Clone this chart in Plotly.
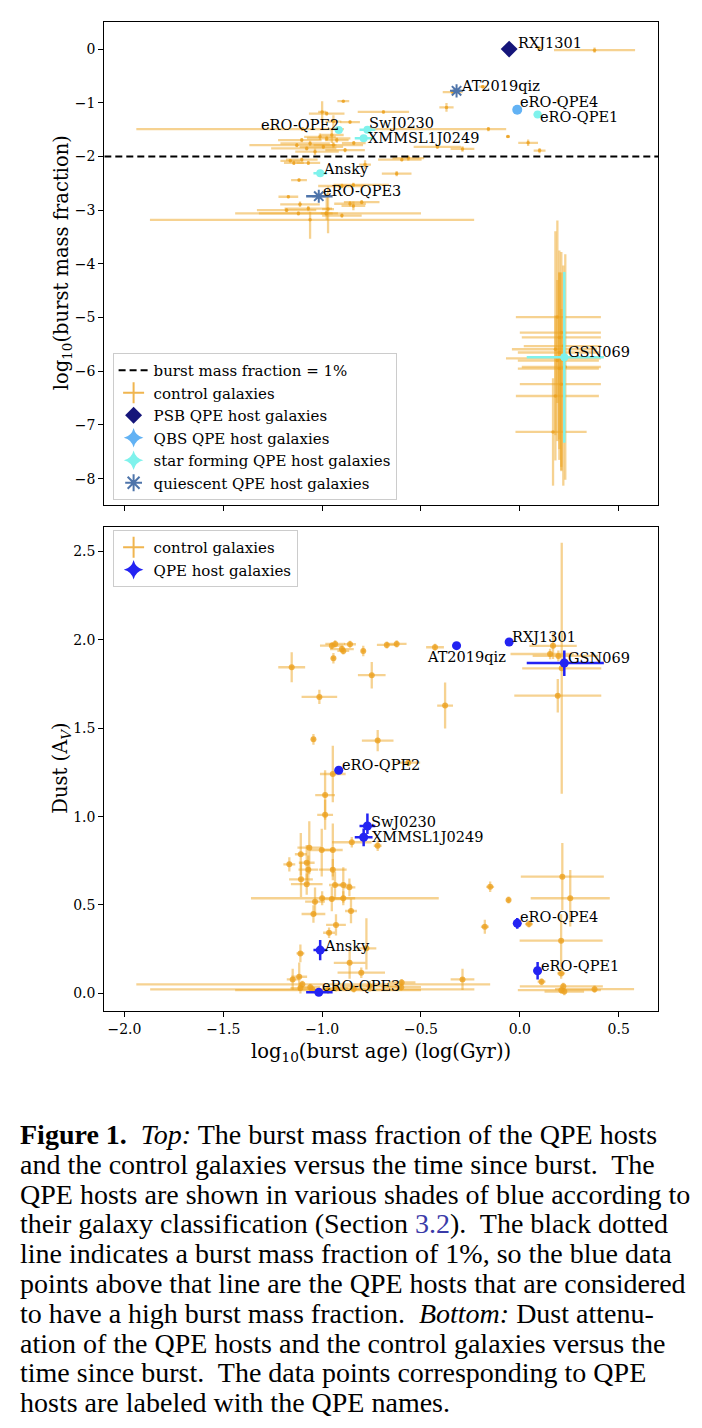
import plotly.graph_objects as go

# ---------------- QPE host data ----------------
qpe_names = ["GSN069", "RXJ1301", "eRO-QPE1", "eRO-QPE2", "eRO-QPE3",
             "eRO-QPE4", "AT2019qiz", "XMMSL1J0249", "SwJ0230", "Ansky"]
qpe_class = ["star forming", "PSB", "star forming", "star forming", "quiescent",
             "QBS", "quiescent", "star forming", "star forming", "star forming"]
qpe_age = [0.225, -0.054, 0.09, -0.916, -1.017, -0.013, -0.32, -0.79, -0.771, -1.01]
qpe_age_lo = [0.19, 0.01, 0.02, 0.02, 0.064, 0.01, 0.02, 0.045, 0.04, 0.034]
qpe_age_hi = [0.20, 0.01, 0.02, 0.02, 0.07, 0.01, 0.02, 0.045, 0.04, 0.034]
qpe_bmf = [-5.74, 0.0, -1.216, -1.508, -2.74, -1.13, -0.777, -1.66, -1.50, -2.31]
qpe_bmf_lo = [1.59, 0.02, 0.06, 0.05, 0.03, 0.02, 0.03, 0.05, 0.05, 0.04]
qpe_bmf_hi = [1.59, 0.02, 0.06, 0.05, 0.03, 0.02, 0.03, 0.05, 0.05, 0.04]
qpe_dust = [1.869, 1.988, 0.128, 1.262, 0.006, 0.396, 1.967, 0.883, 0.947, 0.245]
qpe_dust_lo = [0.073, 0.01, 0.05, 0.01, 0.01, 0.03, 0.01, 0.05, 0.045, 0.057]
qpe_dust_hi = [0.07, 0.01, 0.05, 0.01, 0.01, 0.03, 0.01, 0.05, 0.07, 0.057]

# ---------------- control galaxies: burst mass fraction panel ----------------
ctrl_top_age = [0.097, 0.378, -0.188, -0.34, -0.371, 0.195, -0.159, -0.06, 0.042, 0.10,
                -0.893, -1.0, -0.977, -0.859, -0.69, -1.1, -1.103, -1.061, -1.011, -0.977,
                -0.951, -0.943, -0.926, -0.994, -1.078, -0.884, -1.036, -1.128, -0.943, -0.417,
                -0.29, -0.84, -1.161, -1.103, -0.783, -0.597, -0.564, -0.623, -1.117, -0.842,
                -1.171, -1.112, -1.07, -0.859, -0.842, -1.12, -0.977, -1.061, -0.98, -0.97,
                -1.143, -1.07, -0.90, -1.18, -0.90, -0.80,
                0.19, 0.21, 0.20, 0.22, 0.18, 0.20, 0.21, 0.19, 0.23, 0.20, 0.21, 0.18, 0.168]
ctrl_top_age_lo = [0.01, 0.205, 0.02, 0.05, 0.036, 0.01, 0.62, 0.01, 0.05, 0.03,
                   0.03, 0.02, 0.09, 0.05, 0.13, 0.84, 0.12, 0.15, 0.08, 0.10,
                   0.06, 0.10, 0.06, 0.12, 0.18, 0.10, 0.10, 0.24, 0.04, 0.12,
                   0.06, 0.06, 0.05, 0.08, 0.03, 0.12, 0.08, 0.075, 0.04, 0.10,
                   0.05, 0.10, 0.12, 0.08, 0.06, 0.20, 0.03, 0.81, 0.46, 0.03,
                   0.05, 0.06, 0.12, 0.15, 0.10, 0.09,
                   0.21, 0.21, 0.19, 0.20, 0.22, 0.21, 0.28, 0.20, 0.22, 0.21, 0.21, 0.20, 0.19]
ctrl_top_age_hi = [0.01, 0.205, 0.02, 0.05, 0.036, 0.01, 0.09, 0.01, 0.05, 0.03,
                   0.03, 0.02, 0.09, 0.05, 0.13, 0.21, 0.10, 0.10, 0.08, 0.12,
                   0.06, 0.15, 0.06, 0.10, 0.15, 0.10, 0.12, 0.20, 0.04, 0.12,
                   0.06, 0.06, 0.05, 0.08, 0.03, 0.10, 0.08, 0.075, 0.04, 0.18,
                   0.05, 0.10, 0.12, 0.08, 0.06, 0.20, 0.03, 0.83, 0.48, 0.03,
                   0.05, 0.06, 0.12, 0.15, 0.10, 0.09,
                   0.22, 0.20, 0.21, 0.19, 0.21, 0.20, 0.20, 0.21, 0.18, 0.20, 0.20, 0.22, 0.17]
ctrl_top_bmf = [0.02, -0.02, -0.70, -0.80, -1.086, -0.96, -1.49, -1.63, -1.745, -1.89,
                -0.97, -1.17, -1.20, -1.36, -1.17, -1.49, -1.695, -1.756, -1.633, -1.663,
                -1.60, -1.788, -1.695, -1.82, -1.85, -1.88, -1.91, -1.79, -1.35, -1.82,
                -1.86, -1.75, -2.08, -2.06, -2.15, -2.06, -2.03, -2.32, -2.44, -2.53,
                -2.75, -2.89, -2.97, -2.88, -2.92, -3.06, -3.06, -3.18, -3.06, -2.98,
                -2.12, -2.12, -2.55, -3.0, -3.1, -2.85,
                -4.99, -5.28, -5.37, -5.53, -5.59, -5.65, -5.76, -5.80, -5.92, -5.95, -6.24, -6.46, -7.13]
ctrl_top_bmf_lo = [0.03, 0.05, 0.03, 0.04, 0.08, 0.02, 0.04, 0.02, 0.06, 0.05,
                   0.02, 0.20, 0.04, 0.03, 0.03, 0.03, 0.04, 0.05, 0.06, 0.05,
                   0.15, 0.06, 0.05, 0.04, 0.04, 0.04, 0.06, 0.04, 0.12, 0.04,
                   0.05, 0.04, 0.03, 0.04, 0.08, 0.03, 0.05, 0.05, 0.03, 0.04,
                   0.03, 0.05, 0.05, 0.05, 0.08, 0.04, 0.12, 0.35, 0.04, 0.45,
                   0.04, 0.04, 0.04, 0.04, 0.04, 0.04,
                   1.6, 2.5, 1.9, 2.6, 1.6, 1.8, 2.1, 1.5, 2.1, 1.7, 1.6, 1.2, 1.0]
ctrl_top_bmf_hi = [0.03, 0.05, 0.03, 0.04, 0.08, 0.02, 0.04, 0.02, 0.06, 0.05,
                   0.02, 0.20, 0.04, 0.03, 0.03, 0.03, 0.04, 0.05, 0.06, 0.05,
                   0.10, 0.06, 0.05, 0.04, 0.04, 0.04, 0.06, 0.04, 0.12, 0.04,
                   0.05, 0.04, 0.03, 0.04, 0.08, 0.03, 0.05, 0.05, 0.03, 0.04,
                   0.03, 0.05, 0.05, 0.05, 0.08, 0.04, 0.37, 0.15, 0.04, 0.42,
                   0.04, 0.04, 0.04, 0.04, 0.04, 0.04,
                   1.8, 1.5, 1.2, 1.5, 2.2, 1.9, 1.6, 1.5, 2.1, 1.8, 1.4, 1.5, 1.0]

# ---------------- control galaxies: dust panel ----------------
ctrl_bot_age = [-1.154, -1.014, -0.951, -0.934, -0.90, -0.893, -0.859, -0.943, -0.792, -0.673,
                -0.623, -0.749, -0.429, -0.378, -1.044, -0.719, -0.564, -0.946, -0.985, -0.985,
                0.168, 0.153, 0.195, 0.212, 0.192, -1.065, -1.002, -0.946, -1.108, -1.166,
                -1.078, -1.07, -1.107, -1.078, -0.946, -0.935, -0.893, -0.862, -0.85, -0.719,
                -1.0, -0.951, -0.893, -1.036, -1.044, -0.854, -0.93, 0.215, 0.255, -0.15,
                -0.057, -0.177, 0.046, 0.209, -1.11, -0.965, -0.861, -0.802, -0.776, -1.149,
                -1.116, -0.29, -0.598, 0.11, 0.209, -1.1, -1.05, -0.97, 0.378, 0.21,
                0.22, 0.225, -1.11, -1.06, -0.93, -0.84, -0.76, -0.6]
ctrl_bot_age_lo = [0.068, 0.09, 0.06, 0.05, 0.06, 0.03, 0.03, 0.01, 0.01, 0.05,
                   0.05, 0.07, 0.045, 0.04, 0.01, 0.08, 0.06, 0.065, 0.05, 0.04,
                   0.12, 0.20, 0.13, 0.20, 0.22, 0.06, 0.06, 0.05, 0.03, 0.03,
                   0.04, 0.05, 0.06, 0.08, 0.07, 0.03, 0.04, 0.03, 0.10, 0.02,
                   0.36, 0.05, 0.06, 0.05, 0.06, 0.03, 0.05, 0.21, 0.20, 0.02,
                   0.01, 0.02, 0.02, 0.21, 0.02, 0.03, 0.08, 0.12, 0.05, 0.03,
                   0.04, 0.06, 0.07, 0.02, 0.02, 0.84, 0.82, 0.47, 0.20, 0.22,
                   0.22, 0.10, 0.05, 0.05, 0.06, 0.06, 0.15, 0.10]
ctrl_bot_age_hi = [0.068, 0.09, 0.06, 0.05, 0.06, 0.03, 0.03, 0.01, 0.01, 0.05,
                   0.05, 0.07, 0.045, 0.04, 0.01, 0.08, 0.06, 0.065, 0.05, 0.04,
                   0.12, 0.12, 0.20, 0.20, 0.22, 0.06, 0.06, 0.05, 0.03, 0.03,
                   0.04, 0.05, 0.06, 0.08, 0.07, 0.03, 0.04, 0.03, 0.10, 0.02,
                   0.59, 0.05, 0.06, 0.05, 0.06, 0.03, 0.05, 0.21, 0.20, 0.02,
                   0.01, 0.02, 0.02, 0.21, 0.02, 0.03, 0.08, 0.12, 0.05, 0.03,
                   0.04, 0.06, 0.07, 0.02, 0.02, 0.95, 0.82, 0.47, 0.20, 0.20,
                   0.20, 0.10, 0.05, 0.05, 0.06, 0.06, 0.15, 0.10]
ctrl_bot_dust = [1.845, 1.677, 1.967, 1.977, 1.948, 1.937, 1.975, 1.896, 1.937, 1.971,
                 1.977, 1.80, 1.958, 1.628, 1.437, 1.43, 1.305, 1.241, 1.122, 1.01,
                 1.966, 1.92, 1.909, 1.839, 1.684, 0.824, 0.811, 0.811, 0.787, 0.73,
                 0.739, 0.70, 0.645, 0.618, 0.70, 0.613, 0.613, 0.60, 0.855, 0.835,
                 0.538, 0.534, 0.538, 0.519, 0.449, 0.466, 0.387, 0.66, 0.538, 0.603,
                 0.528, 0.377, 0.392, 0.298, 0.226, 0.343, 0.173, 0.117, 0.255, 0.079,
                 0.094, 0.079, 0.062, 0.066, 0.113, 0.051, 0.023, 0.018, 0.024, 0.018,
                 0.04, 0.01, 0.03, 0.035, 0.03, 0.025, 0.04, 0.035]
ctrl_bot_dust_lo = [0.085, 0.04, 0.02, 0.02, 0.02, 0.02, 0.02, 0.03, 0.03, 0.02,
                    0.02, 0.075, 0.02, 0.13, 0.03, 0.06, 0.02, 0.16, 0.14, 0.085,
                    0.075, 0.03, 0.03, 0.71, 0.095, 0.15, 0.15, 0.15, 0.12, 0.04,
                    0.10, 0.08, 0.10, 0.06, 0.06, 0.075, 0.10, 0.05, 0.03, 0.03,
                    0.04, 0.07, 0.04, 0.08, 0.05, 0.07, 0.06, 0.19, 0.16, 0.03,
                    0.02, 0.04, 0.02, 0.15, 0.05, 0.03, 0.09, 0.03, 0.12, 0.06,
                    0.08, 0.06, 0.02, 0.02, 0.03, 0.02, 0.02, 0.02, 0.02, 0.02,
                    0.02, 0.02, 0.03, 0.02, 0.02, 0.02, 0.03, 0.02]
ctrl_bot_dust_hi = [0.085, 0.04, 0.02, 0.02, 0.02, 0.02, 0.02, 0.03, 0.03, 0.02,
                    0.02, 0.075, 0.02, 0.13, 0.03, 0.06, 0.02, 0.16, 0.14, 0.085,
                    0.075, 0.03, 0.03, 0.71, 0.095, 0.15, 0.12, 0.15, 0.12, 0.04,
                    0.10, 0.08, 0.10, 0.06, 0.06, 0.075, 0.10, 0.05, 0.03, 0.03,
                    0.04, 0.07, 0.04, 0.08, 0.05, 0.07, 0.06, 0.19, 0.16, 0.03,
                    0.02, 0.04, 0.02, 0.15, 0.05, 0.03, 0.09, 0.03, 0.17, 0.06,
                    0.08, 0.06, 0.02, 0.02, 0.03, 0.02, 0.02, 0.02, 0.02, 0.02,
                    0.02, 0.02, 0.03, 0.02, 0.02, 0.02, 0.03, 0.02]

threshold_bmf = -2.0  # log10(1%)
x_range = [-2.102, 0.699]
x_ticks = [-2.0, -1.5, -1.0, -0.5, 0.0, 0.5]
top_y_range = [-8.49, 0.51]
top_y_ticks = [0, -1, -2, -3, -4, -5, -6, -7, -8]
bot_y_range = [-0.098, 2.64]
bot_y_ticks = [0.0, 0.5, 1.0, 1.5, 2.0, 2.5]

caption_lines = [
    "<b>Figure 1.</b>  <i>Top:</i> The burst mass fraction of the QPE hosts",
    "and the control galaxies versus the time since burst.  The",
    "QPE hosts are shown in various shades of blue according to",
    "their galaxy classification (Section <span style='color:#3a3aa8'>3.2</span>).  The black dotted",
    "line indicates a burst mass fraction of 1%, so the blue data",
    "points above that line are the QPE hosts that are considered",
    "to have a high burst mass fraction.  <i>Bottom:</i> Dust attenu-",
    "ation of the QPE hosts and the control galaxies versus the",
    "time since burst.  The data points corresponding to QPE",
    "hosts are labeled with the QPE names.",
]

# ---------------- styles / layout geometry ----------------
PAGE_W, PAGE_H = 702, 1428
OFF = 8                      # browser default body margin
W, H = PAGE_W - 2 * OFF, PAGE_H - 2 * OFF


def px(p):
    return (p - OFF) / W


def py(p):
    return 1 - (p - OFF) / H


FONT = "DejaVu Serif"
ORANGE_BAR = "rgba(238,165,35,0.5)"
ORANGE_MK = "rgba(236,160,30,0.78)"
class_style = {
    "PSB": dict(color="#15157a", symbol="diamond", size=13, legend="PSB QPE host galaxies", lsym="diamond"),
    "QBS": dict(color="#62b2f4", symbol="circle", size=10, legend="QBS QPE host galaxies", lsym="star-diamond"),
    "star forming": dict(color="#7ff2ec", symbol="circle", size=8, legend="star forming QPE host galaxies", lsym="star-diamond"),
    "quiescent": dict(color="#4e74aa", symbol="asterisk-open", size=11, legend="quiescent QPE host galaxies", lsym="asterisk-open"),
}
class_order = ["PSB", "QBS", "star forming", "quiescent"]
QPE_BLUE = "#2323f2"

top_label_shift = {"RXJ1301": (7, 6, "left"), "AT2019qiz": (2, 5, "left"), "eRO-QPE4": (1, 8, "left"),
                   "eRO-QPE1": (0, -3, "left"), "eRO-QPE2": (2, 5, "right"), "SwJ0230": (0, 7, "left"),
                   "XMMSL1J0249": (2, 0, "left"), "Ansky": (1, 4, "left"), "eRO-QPE3": (2, 5, "left"),
                   "GSN069": (2, 5, "left")}
bot_label_shift = {"RXJ1301": (1, 5, "left"), "AT2019qiz": (-32, -11, "left"), "GSN069": (2, 5, "left"),
                   "eRO-QPE2": (1, 5, "left"), "SwJ0230": (2, 4, "left"), "XMMSL1J0249": (6, 0, "left"),
                   "eRO-QPE4": (1, 6, "left"), "Ansky": (2, 4, "left"), "eRO-QPE1": (1, 5, "left"),
                   "eRO-QPE3": (1, 6, "left")}

# plot frames in page pixels
X0, X1 = 104.3, 658.0
TOP0, TOP1 = 21.7, 505.0
BOT0, BOT1 = 526.7, 1010.7
xdom = [px(X0), px(X1)]
top_dom = [py(TOP1), py(TOP0)]
bot_dom = [py(BOT1), py(BOT0)]

fig = go.Figure()

# ---- top panel ----
fig.add_trace(go.Scatter(
    x=ctrl_top_age, y=ctrl_top_bmf, mode="markers", xaxis="x", yaxis="y",
    marker=dict(color=ORANGE_MK, size=3.5),
    error_x=dict(type="data", array=ctrl_top_age_hi, arrayminus=ctrl_top_age_lo, color=ORANGE_BAR, thickness=2.3, width=0),
    error_y=dict(type="data", array=ctrl_top_bmf_hi, arrayminus=ctrl_top_bmf_lo, color=ORANGE_BAR, thickness=2.3, width=0),
    showlegend=False, hoverinfo="skip"))

fig.add_trace(go.Scatter(
    x=x_range, y=[threshold_bmf, threshold_bmf], mode="lines", xaxis="x", yaxis="y",
    line=dict(color="black", width=2.2, dash="7px,4px"),
    name="burst mass fraction = 1%", legend="legend", legendgroup="g0"))

fig.add_trace(go.Scatter(
    x=[None], y=[None], mode="markers", xaxis="x", yaxis="y",
    marker=dict(symbol="cross-thin-open", size=15, line=dict(color=ORANGE_MK, width=2), color=ORANGE_MK),
    name="control galaxies", legend="legend", legendgroup="g1"))

for i, cls in enumerate(class_order):
    st = class_style[cls]
    idx = [k for k, c in enumerate(qpe_class) if c == cls]
    mk = dict(color=st["color"], symbol=st["symbol"], size=st["size"])
    if "open" in st["symbol"]:
        mk["line"] = dict(color=st["color"], width=2)
    fig.add_trace(go.Scatter(
        x=[qpe_age[k] for k in idx], y=[qpe_bmf[k] for k in idx], mode="markers",
        xaxis="x", yaxis="y", marker=mk,
        error_x=dict(type="data", array=[qpe_age_hi[k] for k in idx], arrayminus=[qpe_age_lo[k] for k in idx],
                     color=st["color"], thickness=2.5, width=0),
        error_y=dict(type="data", array=[qpe_bmf_hi[k] for k in idx], arrayminus=[qpe_bmf_lo[k] for k in idx],
                     color=st["color"], thickness=2.5, width=0),
        showlegend=False, hoverinfo="skip"))
    lmk = dict(color=st["color"], symbol=st["lsym"], size=14 if cls != "PSB" else 13)
    if "open" in st["lsym"]:
        lmk["line"] = dict(color=st["color"], width=2)
    fig.add_trace(go.Scatter(
        x=[None], y=[None], mode="markers", xaxis="x", yaxis="y", marker=lmk,
        name=st["legend"], legend="legend", legendgroup="g%d" % (i + 2)))

# ---- bottom panel ----
fig.add_trace(go.Scatter(
    x=ctrl_bot_age, y=ctrl_bot_dust, mode="markers", xaxis="x2", yaxis="y2",
    marker=dict(color=ORANGE_MK, size=6),
    error_x=dict(type="data", array=ctrl_bot_age_hi, arrayminus=ctrl_bot_age_lo, color=ORANGE_BAR, thickness=2.3, width=0),
    error_y=dict(type="data", array=ctrl_bot_dust_hi, arrayminus=ctrl_bot_dust_lo, color=ORANGE_BAR, thickness=2.3, width=0),
    showlegend=False, hoverinfo="skip"))
fig.add_trace(go.Scatter(
    x=qpe_age, y=qpe_dust, mode="markers", xaxis="x2", yaxis="y2",
    marker=dict(color=QPE_BLUE, size=9),
    error_x=dict(type="data", array=qpe_age_hi, arrayminus=qpe_age_lo, color=QPE_BLUE, thickness=2.5, width=0),
    error_y=dict(type="data", array=qpe_dust_hi, arrayminus=qpe_dust_lo, color=QPE_BLUE, thickness=2.5, width=0),
    showlegend=False, hoverinfo="skip"))
fig.add_trace(go.Scatter(
    x=[None], y=[None], mode="markers", xaxis="x2", yaxis="y2",
    marker=dict(symbol="cross-thin-open", size=15, line=dict(color=ORANGE_MK, width=2), color=ORANGE_MK),
    name="control galaxies", legend="legend2", legendgroup="h1"))
fig.add_trace(go.Scatter(
    x=[None], y=[None], mode="markers", xaxis="x2", yaxis="y2",
    marker=dict(symbol="star-diamond", size=14, color=QPE_BLUE),
    name="QPE host galaxies", legend="legend2", legendgroup="h2"))

annotations = []
for k, name in enumerate(qpe_names):
    dx, dy, anc = top_label_shift[name]
    annotations.append(dict(x=qpe_age[k], y=qpe_bmf[k], xref="x", yref="y", text=name, showarrow=False,
                            xanchor=anc, yanchor="middle", xshift=dx, yshift=dy,
                            font=dict(family=FONT, size=14.5, color="black")))
    dx, dy, anc = bot_label_shift[name]
    annotations.append(dict(x=qpe_age[k], y=qpe_dust[k], xref="x2", yref="y2", text=name, showarrow=False,
                            xanchor=anc, yanchor="middle", xshift=dx, yshift=dy,
                            font=dict(family=FONT, size=14.5, color="black")))

# axis titles
annotations.append(dict(x=px(62), y=sum(top_dom) / 2, xref="paper", yref="paper", textangle=-90,
                        xanchor="center", yanchor="middle",
                        text="log<sub>10</sub>(burst mass fraction)", showarrow=False,
                        font=dict(family=FONT, size=19.5, color="black")))
annotations.append(dict(x=px(62), y=sum(bot_dom) / 2, xref="paper", yref="paper", textangle=-90,
                        xanchor="center", yanchor="middle",
                        text="Dust (A<sub><i>V</i></sub>)", showarrow=False,
                        font=dict(family=FONT, size=19.5, color="black")))
annotations.append(dict(x=sum(xdom) / 2, y=py(1052), xref="paper", yref="paper",
                        xanchor="center", yanchor="middle",
                        text="log<sub>10</sub>(burst age) (log(Gyr))", showarrow=False,
                        font=dict(family=FONT, size=19.5, color="black")))

# caption
cap_y0, cap_dy = 1134.5, 29.8
for i, line in enumerate(caption_lines):
    annotations.append(dict(x=px(18), y=py(cap_y0 + i * cap_dy), xref="paper", yref="paper",
                            xanchor="left", yanchor="middle", text=line, showarrow=False,
                            font=dict(family="Liberation Serif", size=28, color="black")))

axis_common = dict(showline=True, linecolor="black", linewidth=1.2, mirror=True, ticks="outside",
                   ticklen=5, tickwidth=1.2, tickcolor="black", showgrid=False, zeroline=False,
                   tickfont=dict(family=FONT, size=14, color="black"))

legend_common = dict(xanchor="left", yanchor="top", bgcolor="rgba(255,255,255,0.85)",
                     bordercolor="#cccccc", borderwidth=1, font=dict(family=FONT, size=15, color="black"),
                     traceorder="grouped", tracegroupgap=0, itemsizing="trace")

fig.update_layout(
    width=W, height=H, margin=dict(l=0, r=0, t=0, b=0),
    paper_bgcolor="white", plot_bgcolor="white",
    font=dict(family=FONT, color="black"),
    xaxis=dict(domain=xdom, range=x_range, tickvals=x_ticks, showticklabels=False, anchor="y", **axis_common),
    yaxis=dict(domain=top_dom, range=top_y_range, tickvals=top_y_ticks, anchor="x", **axis_common),
    xaxis2=dict(domain=xdom, range=x_range, tickvals=x_ticks, tickformat=".1f", anchor="y2", **axis_common),
    yaxis2=dict(domain=bot_dom, range=bot_y_range, tickvals=bot_y_ticks, tickformat=".1f", anchor="x2", **axis_common),
    legend=dict(x=px(112.6), y=py(353), **legend_common),
    legend2=dict(x=px(112.6), y=py(530), **legend_common),
    annotations=annotations,
)

fig.write_html("out.html")
